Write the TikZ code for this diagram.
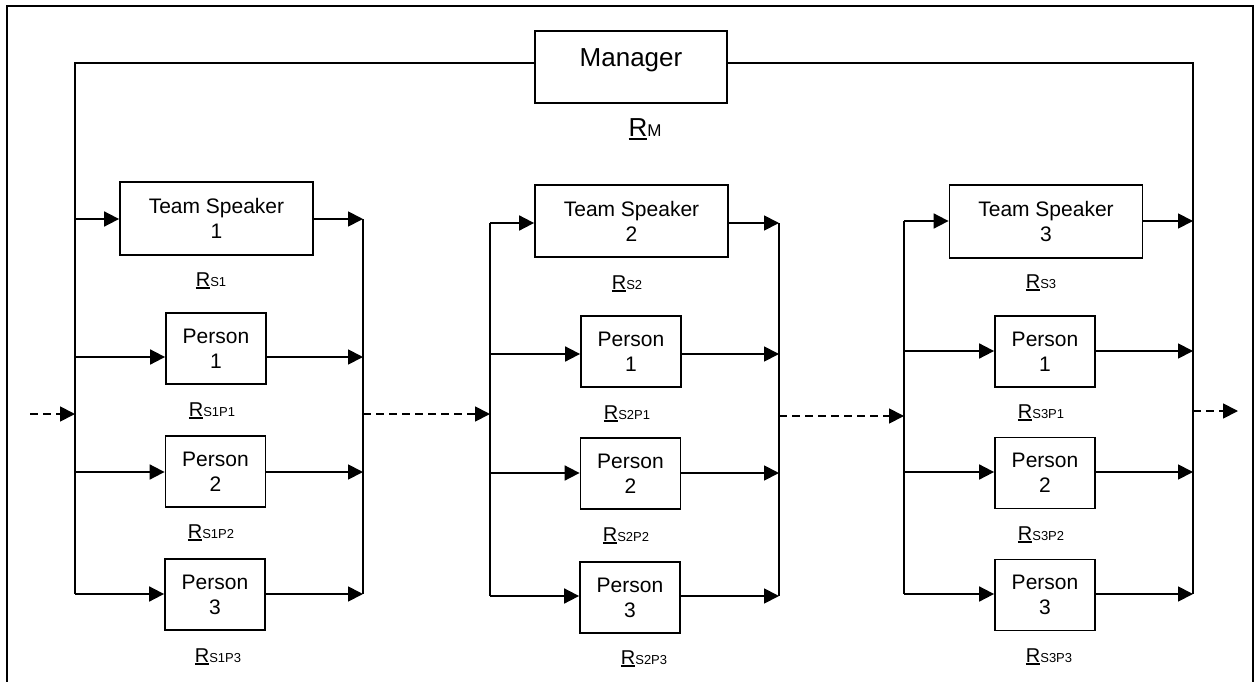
\documentclass[tikz,border=0pt]{standalone}
\usepackage{fontspec}
\setmainfont{Liberation Sans}
\usetikzlibrary{arrows.meta}
\newcommand\Rlab[2][20]{\setbox0\hbox{\fontsize{#1}{#1}\selectfont R}\rlap{\rule[-3pt]{\wd0}{1.6pt}}\box0{\fontsize{13}{13}\selectfont #2}}
\begin{document}
\begin{tikzpicture}[x=1pt,y=-1pt,line width=1.8pt,
  box/.style={draw, line width=1.8pt, align=center, inner sep=0pt, font=\fontsize{21}{25}\selectfont},
  tsbox/.style={box, minimum width=193pt, minimum height=73pt},
  pbox/.style={box, minimum width=100pt, minimum height=71pt},
  arr/.style={-{Triangle[length=15pt,width=15pt]}},
  darr/.style={arr, dash pattern=on 8pt off 5pt},
  rlab/.style={anchor=base, inner sep=0pt, font=\fontsize{20}{24}\selectfont},
]
\useasboundingbox (0,0) rectangle (1255,682);
\draw[line width=1.6pt] (7,682) -- (7,6) -- (1253,6) -- (1253,682);

% Manager
\node[box, minimum width=192pt, minimum height=72pt, font=\fontsize{26}{30}\selectfont,
      text height=12pt, text depth=12pt] (M) at (631,67) {Manager};
\node[rlab] (RM) at (645,137) {\Rlab[26]{\fontsize{17}{17}\selectfont M}};

% Group 1
\node[tsbox] (TS1) at (216.5,218.5) {Team Speaker\\1};
\node[pbox] (Pa1) at (216,348.5) {Person\\1};
\node[pbox] (Pb1) at (215.5,471.5) {Person\\2};
\node[pbox] (Pc1) at (215,594.5) {Person\\3};
\node[rlab] (RS1) at (211,286) {\Rlab{S1}};
\node[rlab] (RS1P1) at (212,416) {\Rlab{S1P1}};
\node[rlab] (RS1P2) at (211,538) {\Rlab{S1P2}};
\node[rlab] (RS1P3) at (218,662) {\Rlab{S1P3}};

% Group 2
\node[tsbox, minimum height=72pt] (TS2) at (631.5,221) {Team Speaker\\2};
\node[pbox] (Pa2) at (631,351.5) {Person\\1};
\node[pbox] (Pb2) at (630.5,473.5) {Person\\2};
\node[pbox] (Pc2) at (630,597.5) {Person\\3};
\node[rlab] (RS2) at (627,289) {\Rlab{S2}};
\node[rlab] (RS2P1) at (627,419) {\Rlab{S2P1}};
\node[rlab] (RS2P2) at (626,541) {\Rlab{S2P2}};
\node[rlab] (RS2P3) at (644,664) {\Rlab{S2P3}};

% Group 3
\node[tsbox] (TS3) at (1046,221.5) {Team Speaker\\3};
\node[pbox] (Pa3) at (1045,351.5) {Person\\1};
\node[pbox] (Pb3) at (1045,473) {Person\\2};
\node[pbox] (Pc3) at (1045,595) {Person\\3};
\node[rlab] (RS3) at (1041,288) {\Rlab{S3}};
\node[rlab] (RS3P1) at (1041,418) {\Rlab{S3P1}};
\node[rlab] (RS3P2) at (1041,540) {\Rlab{S3P2}};
\node[rlab] (RS3P3) at (1049,662) {\Rlab{S3P3}};

% bus coordinates
\foreach \g/\lx/\rx/\ya/\yb/\yc/\yd in {1/75/363/219/357/472/594, 2/490/779/223/354/473/596, 3/904/1193/221/351/472/594}{
  \coordinate (L\g a) at (\lx,\ya); \coordinate (R\g a) at (\rx,\ya);
  \coordinate (L\g b) at (\lx,\yb); \coordinate (R\g b) at (\rx,\yb);
  \coordinate (L\g c) at (\lx,\yc); \coordinate (R\g c) at (\rx,\yc);
  \coordinate (L\g d) at (\lx,\yd); \coordinate (R\g d) at (\rx,\yd);
}
\foreach \g in {1,2,3}{
  \foreach \r/\n in {a/TS,b/Pa,c/Pb,d/Pc}{
    \draw[arr] (L\g\r) -- (L\g\r -| \n\g.west);
    \draw[arr] (\n\g.east |- R\g\r) -- (R\g\r);
  }
  \draw (L\g a) -- (L\g d);
  \draw (R\g a) -- (R\g d);
}

% manager connections
\coordinate (Mtl) at (75,63);
\coordinate (Mtr) at (1193,63);
\draw (M.west |- Mtl) -- (Mtl) -- (L1a);
\draw (M.east |- Mtr) -- (Mtr) -- (R3a);

% dashed flow
\coordinate (d0) at (30,414);
\coordinate (d1) at (363,414);
\coordinate (d2) at (779,416);
\coordinate (d3) at (1193,411);
\coordinate (dout) at (1238,411);
\draw[darr] (d0) -- (d0 -| L1a);
\draw[darr] (d1) -- (d1 -| L2a);
\draw[darr] (d2) -- (d2 -| L3a);
\draw[darr] (d3) -- (dout);
\end{tikzpicture}
\end{document}
